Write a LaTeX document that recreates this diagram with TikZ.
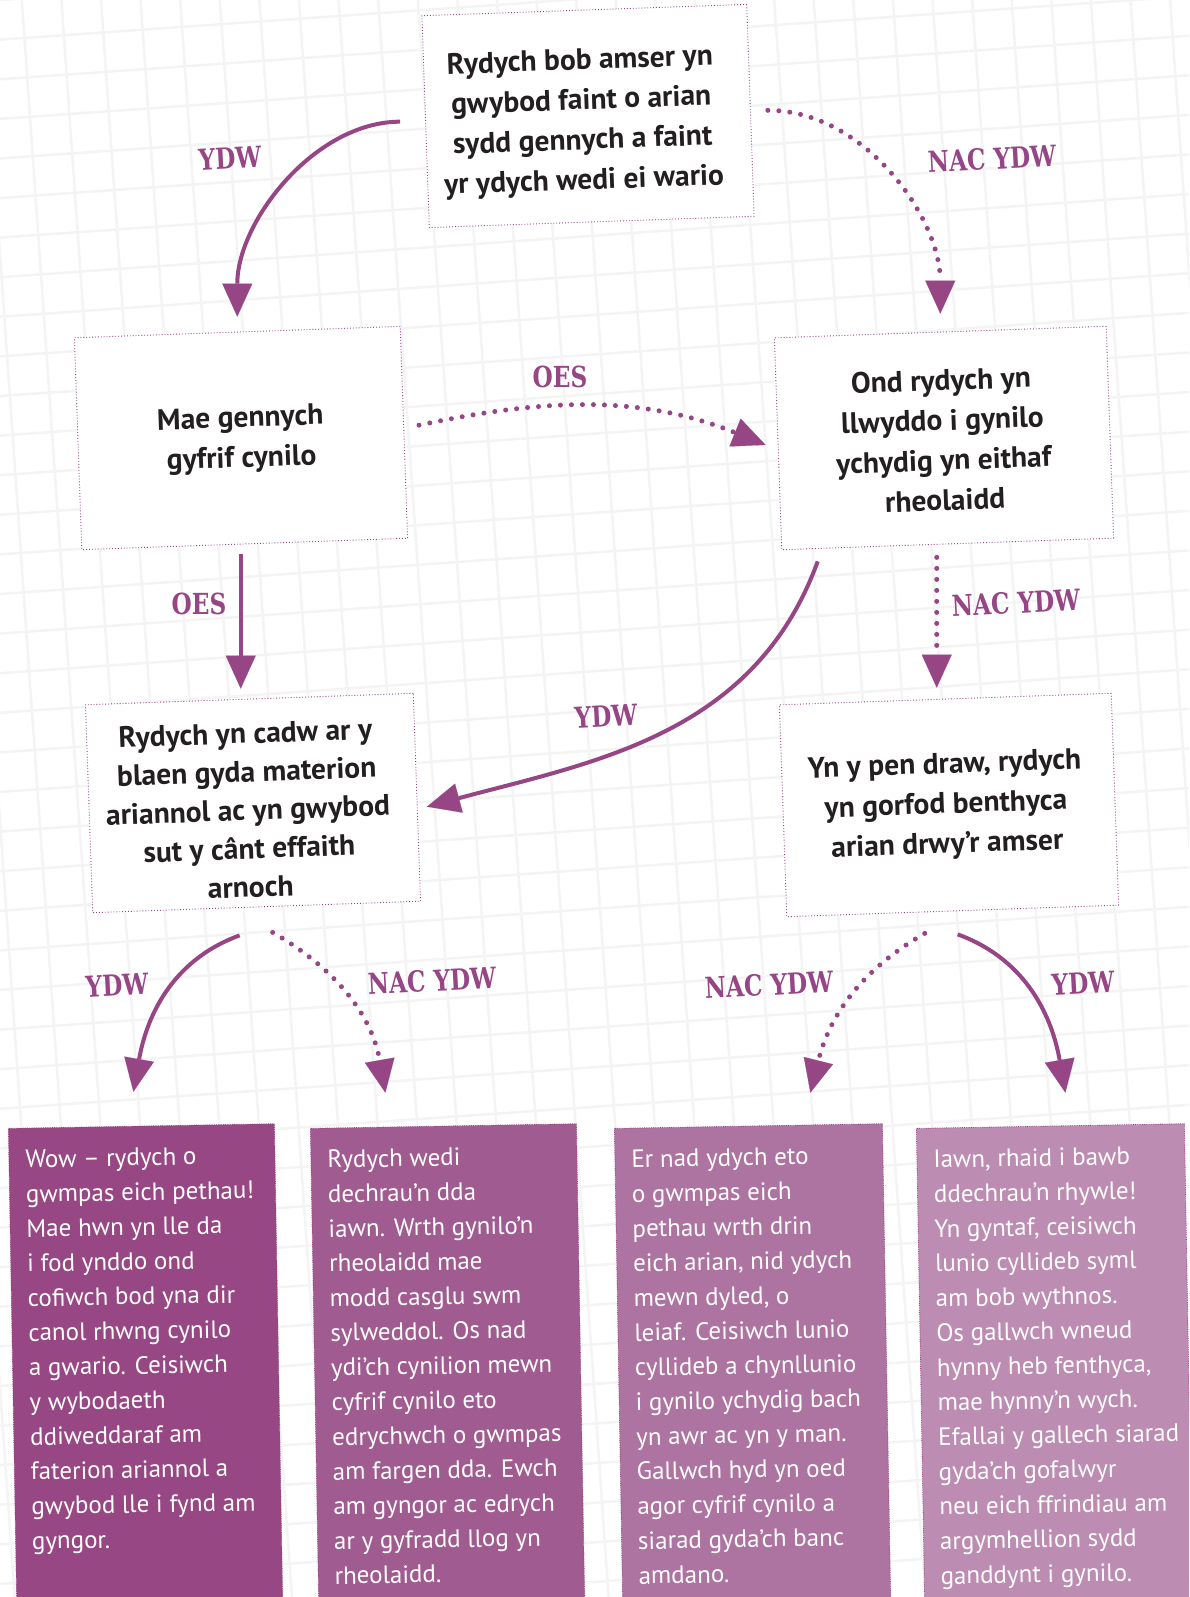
\documentclass[tikz,border=0pt]{standalone}
\usepackage{fontspec}
\usepackage{graphicx}
\setmainfont{PT Sans}
\newfontfamily\labfam{DejaVu Serif}
\usetikzlibrary{arrows.meta,calc}
\definecolor{plum}{HTML}{964585}
\definecolor{ink}{HTML}{231F20}
\definecolor{gridc}{HTML}{F4F4F4}
\definecolor{cA}{HTML}{974783}
\definecolor{cB}{HTML}{A05C91}
\definecolor{cC}{HTML}{AE74A1}
\definecolor{cD}{HTML}{BC8CB2}
\newcommand\boxfont{\bfseries\fontsize{29.5}{40}\selectfont}
\newcommand\btfont{\fontsize{25}{34.7}\selectfont}
\newcommand\labfont{\labfam\bfseries\fontsize{29}{29}\selectfont}
\newcommand\lb[1]{\scalebox{0.8}[1]{#1}}
\tikzset{
  box/.style={draw=plum, dotted, line width=0.9pt, fill=white, inner sep=0pt, rotate=2},
  boxtext/.style={align=center, text=ink, font=\boxfont, inner sep=0pt, rotate=2},
  bbox/.style={draw=plum, densely dotted, line width=0.8pt, rotate=1, inner sep=0pt, minimum height=520pt, anchor=north west},
  btext/.style={align=left, text=white, font=\btfont, inner sep=0pt, anchor=north west, rotate=1},
  solidarrow/.style={draw=plum, line width=4pt, -{Triangle[length=33pt,width=30pt,line width=0.1pt]}},
  dotarrow/.style={draw=plum, line width=5pt, line cap=round, dash pattern=on 0pt off 11pt, -{Triangle[length=33pt,width=30pt,line width=0.1pt]}},
  lab/.style={text=plum, font=\labfont, inner sep=0pt}
}
\begin{document}
\begin{tikzpicture}[x=1pt,y=-1pt]
\clip (0,0) rectangle (1189,1597);
\useasboundingbox (0,0) rectangle (1189,1597);
\fill[white] (0,0) rectangle (1189,1597);
\begin{scope}[rotate around={4:(595,800)}]
  \foreach \i in {-10,...,45} {
    \draw[gridc, line width=2.5pt] (\i*39.5,-300) -- (\i*39.5,1900);
    \draw[gridc, line width=2.5pt] (-300,\i*39.5) -- (1500,\i*39.5);
  }
\end{scope}

% decision boxes
\node[box, minimum width=325pt, minimum height=212pt] (top) at (588,116) {};
\node[box, minimum width=326pt, minimum height=212pt] (mae) at (241,438) {};
\node[box, minimum width=332pt, minimum height=212pt] (ond) at (944,438) {};
\node[box, minimum width=328pt, minimum height=208pt] (cadw) at (253,803) {};
\node[box, minimum width=332pt, minimum height=212pt] (pen) at (949,805) {};

\node[boxtext] (topT) at (582,122)
  {Rydych bob amser yn\\ gwybod faint o arian\\ sydd gennych a faint\\ yr ydych wedi ei wario};
\node[boxtext] (maeT) at (241,440) {Mae gennych\\ gyfrif cynilo};
\node[boxtext] (ondT) at (943,440)
  {Ond rydych yn\\ llwyddo i gynilo\\ ychydig yn eithaf\\ rheolaidd};
\node[boxtext, font=\bfseries\fontsize{29.5}{38.5}\selectfont] (cadwT) at (248,810)
  {Rydych yn cadw ar y\\ blaen gyda materion\\ ariannol ac yn gwybod\\ sut y c\^ant effaith\\ arnoch};
\node[boxtext] (penT) at (946,806)
  {Yn y pen draw, rydych\\ yn gorfod benthyca\\ arian drwy'r amser};

% outcome boxes
\node[bbox, fill=cA, minimum width=266pt] (b1) at (8,1128) {};
\node[bbox, fill=cB, minimum width=266pt] (b2) at (310,1128) {};
\node[bbox, fill=cC, minimum width=268pt] (b3) at (614,1128) {};
\node[bbox, fill=cD, minimum width=268pt] (b4) at (916,1128) {};

\node[btext] (t1) at (25,1150) {Wow -- rydych o\\ gwmpas eich pethau!\\ Mae hwn yn lle da\\ i fod ynddo ond\\ cofiwch bod yna dir\\ canol rhwng cynilo\\ a gwario. Ceisiwch\\ y wybodaeth\\ ddiweddaraf am\\ faterion ariannol a\\ gwybod lle i fynd am\\ gyngor.};
\node[btext] (t2) at (327,1150) {Rydych wedi\\ dechrau'n dda\\ iawn. Wrth gynilo'n\\ rheolaidd mae\\ modd casglu swm\\ sylweddol. Os nad\\ ydi'ch cynilion mewn\\ cyfrif cynilo eto\\ edrychwch o gwmpas\\ am fargen dda. Ewch\\ am gyngor ac edrych\\ ar y gyfradd llog yn\\ rheolaidd.};
\node[btext] (t3) at (631,1150) {Er nad ydych eto\\ o gwmpas eich\\ pethau wrth drin\\ eich arian, nid ydych\\ mewn dyled, o\\ leiaf. Ceisiwch lunio\\ cyllideb a chynllunio\\ i gynilo ychydig bach\\ yn awr ac yn y man.\\ Gallwch hyd yn oed\\ agor cyfrif cynilo a\\ siarad gyda'ch banc\\ amdano.};
\node[btext] (t4) at (933,1150) {Iawn, rhaid i bawb\\ ddechrau'n rhywle!\\ Yn gyntaf, ceisiwch\\ lunio cyllideb syml\\ am bob wythnos.\\ Os gallwch wneud\\ hynny heb fenthyca,\\ mae hynny'n wych.\\ Efallai y gallech siarad\\ gyda'ch gofalwyr\\ neu eich ffrindiau am\\ argymhellion sydd\\ ganddynt i gynilo.};

% connectors
\draw[solidarrow, shorten <=25pt, shorten >=15pt] (top.west) to[out=180,in=90] (mae.north);
\draw[dotarrow, shorten <=17pt, shorten >=18pt] (top.east) to[out=0,in=90] (ond.north);
\draw[dotarrow, shorten <=15pt, shorten >=13pt] ([yshift=4pt]mae.east) to[out=12,in=158] ([yshift=-6pt]ond.west);
\draw[solidarrow, shorten <=10pt, shorten >=10pt] ([xshift=-4pt]mae.south) -- ([xshift=-4pt]mae.south |- cadw.north);
\draw[dotarrow, shorten <=13pt, shorten >=11pt] ([xshift=-11pt]ond.south) -- ([xshift=-11pt]ond.south |- pen.north);
\draw[solidarrow, shorten >=10pt] ($(ond.south)+(-130,17)$) to[out=-110,in=15] ([yshift=-12pt]cadw.east);
\draw[solidarrow] ($(cadw.south)+(-17,28)$) to[out=-160,in=80] ($(b1.north)+(-8,-34)$);
\draw[dotarrow] ($(cadw.south)+(16,25)$) to[out=-30,in=100] ($(b2.north)+(-58,-33)$);
\draw[dotarrow] ($(pen.south)+(-28,22)$) to[out=-150,in=76] ($(b3.north)+(62,-33)$);
\draw[solidarrow] ($(pen.south)+(5,23)$) to[out=-20,in=100] ($(b4.north)+(15,-33)$);

% labels
\node[lab, rotate=3] (l1) at (230,158) {\lb{YDW}};
\node[lab, rotate=3] (l2) at (992,159) {\lb{NAC YDW}};
\node[lab, rotate=0] (l3) at (560,377) {\lb{OES}};
\node[lab, rotate=0] (l4) at (199,604) {\lb{OES}};
\node[lab, rotate=3] (l5) at (1016,603) {\lb{NAC YDW}};
\node[lab, rotate=3] (l6) at (606,716) {\lb{YDW}};
\node[lab, rotate=3] (l7) at (117,985) {\lb{YDW}};
\node[lab, rotate=3] (l8) at (432,981) {\lb{NAC YDW}};
\node[lab, rotate=3] (l9) at (769,985) {\lb{NAC YDW}};
\node[lab, rotate=3] (l10) at (1083,983) {\lb{YDW}};
\end{tikzpicture}
\end{document}
